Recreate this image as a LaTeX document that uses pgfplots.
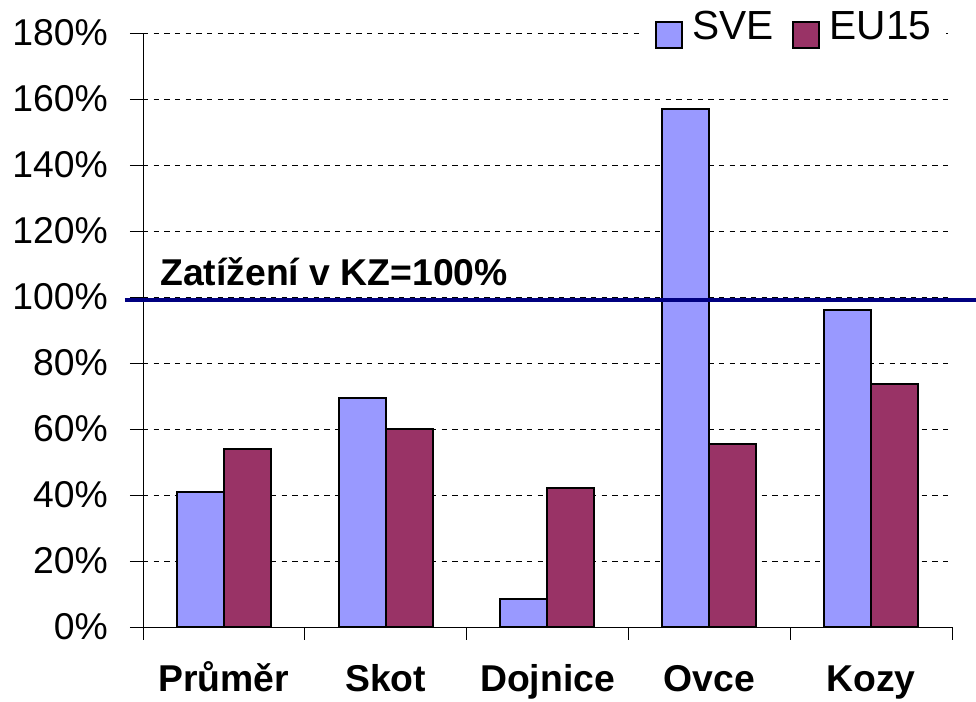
\documentclass[border=0pt]{standalone}
\usepackage{pgfplots}
\pgfplotsset{compat=1.18}
\usepackage{fontspec}
\setmainfont{Liberation Sans}
\definecolor{sve}{RGB}{153,153,255}
\definecolor{eu}{RGB}{153,51,102}
\definecolor{navyline}{RGB}{0,0,128}
\begin{document}
\begin{tikzpicture}
\useasboundingbox (-107.25pt,-56.25pt) rectangle (624.75pt,470.25pt);
\begin{axis}[
  at={(0,0)}, anchor=south west,
  scale only axis, width=606.75pt, height=445.5pt,
  xmin=0, xmax=5, ymin=0, ymax=180,
  axis x line=bottom, axis y line=left,
  axis line style={-, black, line width=0.7pt},
  tick style={black, line width=0.7pt},
  major tick length=9.75pt, tick align=outside,
  ybar=0pt, bar width=35.25pt,
  ytick={0,20,...,180},
  yticklabel={\pgfmathprintnumber{\tick}\%},
  /pgf/number format/assume math mode=true,
  yticklabel style={font=\fontsize{28}{30}\selectfont, xshift=-13pt},
  ymajorgrids, grid style={black, dash pattern=on 4pt off 4pt, line width=0.6pt},
  xtick={0,1,2,3,4,5}, xticklabels={},
  extra x ticks={0.5,1.5,2.5,3.5,4.5},
  extra x tick labels={Průměr,Skot,Dojnice,Ovce,Kozy},
  extra x tick style={tick style={draw=none}, grid=none,
     xticklabel style={font=\bfseries\fontsize{28}{30}\selectfont, anchor=base, yshift=-39pt}},
  clip=false,
  legend columns=2,
  legend style={at={(axis description cs:0.614,1)}, anchor=west, draw=none, fill=white,
     inner xsep=11.25pt, inner ysep=2pt, yshift=2.25pt,
     font=\fontsize{30.5}{32}\selectfont,
     nodes={inner sep=0pt},
     /tikz/every even column/.append style={column sep=14pt}},
  legend image code/.code={\draw[#1, line width=1.5pt] (0pt,-15.75pt) rectangle (19.5pt,3.75pt); \path (26.5pt,0pt);},
]
\addplot[fill=sve, draw=black, line width=1.5pt] coordinates {(0.5,41) (1.5,69.5) (2.5,8.5) (3.5,157) (4.5,96)};
\addlegendentry{SVE}
\addplot[fill=eu, draw=black, line width=1.5pt] coordinates {(0.5,54) (1.5,60) (2.5,42) (3.5,55.5) (4.5,73.5)};
\addlegendentry{EU15}
\draw[navyline, line width=3pt] ([xshift=-13.5pt]axis cs:0,99) -- ([xshift=18pt]axis cs:5,99);
\node[anchor=base west, inner sep=0pt, font=\bfseries\fontsize{28}{30}\selectfont] at (axis cs:0.105,103.6) {Zatížení v KZ=100\%};
\end{axis}
\end{tikzpicture}
\end{document}
